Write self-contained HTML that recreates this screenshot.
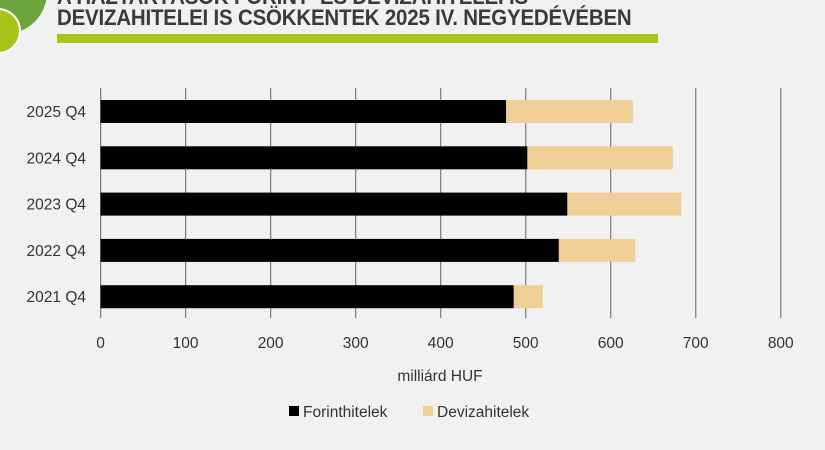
<!DOCTYPE html>
<html><head><meta charset="utf-8"><style>
body{margin:0;width:825px;height:450px;background:#f1f1f1;overflow:hidden;font-family:"Liberation Sans",sans-serif;position:relative}
.title{position:absolute;left:57px;font-weight:bold;color:#3a3a3a;font-size:22px;letter-spacing:-0.2px;white-space:nowrap;transform:scaleX(0.93);transform-origin:left}
</style></head><body>
<svg width="825" height="60" style="position:absolute;left:0;top:0">
<circle cx="5" cy="-8" r="42" fill="#6aa43a"/>
<circle cx="-2" cy="31" r="22" fill="#a8c418" stroke="#fff" stroke-width="2"/>
</svg>
<div class="title" style="top:-16px">A HÁZTARTÁSOK FORINT- ÉS DEVIZAHITELEI IS</div>
<div class="title" style="top:5px">DEVIZAHITELEI IS CSÖKKENTEK 2025 IV. NEGYEDÉVÉBEN</div>
<div style="position:absolute;left:57px;top:34px;width:601px;height:9px;background:#a8c418"></div>
<svg id="chart" width="825" height="450" style="position:absolute;left:0;top:0"></svg>
<script>
const categories=["2025 Q4","2024 Q4","2023 Q4","2022 Q4","2021 Q4"];
const forint=[477,502,549,539,486];
const deviza=[149,171,134,90,34];
const ticks=[0,100,200,300,400,500,600,700,800];
const svg=document.getElementById('chart');
const NS='http://www.w3.org/2000/svg';
const x=v=>100.6+v*0.8502;
const y=i=>100+i*46.3;
function mk(t,a,txt){const e=document.createElementNS(NS,t);for(const k in a)e.setAttribute(k,a[k]);if(txt!=null)e.textContent=txt;svg.appendChild(e);return e;}
ticks.forEach(t=>{
 const l=mk('line',{x1:x(t),x2:x(t),y1:88,y2:318,stroke:'#7a7a7a','stroke-width':1.2});
 
 
 const tx=mk('text',{x:x(t),y:348,'text-anchor':'middle','font-size':15.5,fill:'#333'},String(t));
 
 
});
categories.forEach((c,i)=>{
 const b=mk('rect',{x:x(0),y:y(i),width:x(forint[i])-x(0),height:23,fill:'#000'});
 
 
 const d=mk('rect',{x:x(forint[i]),y:y(i),width:x(forint[i]+deviza[i])-x(forint[i]),height:23,fill:'#f0cf96'});
 
 
 const l=mk('text',{x:86,y:y(i)+17,'text-anchor':'end','font-size':15.5,fill:'#333'},c);
 
 
});
const at=mk('text',{x:440,y:381,'text-anchor':'middle','font-size':15.5,fill:'#333'},'milliárd HUF');


const s1=mk('rect',{x:289,y:406,width:10,height:10,fill:'#000'});


const t1=mk('text',{x:303,y:417,'font-size':15.5,fill:'#333'},'Forinthitelek');


const s2=mk('rect',{x:423,y:406,width:10,height:10,fill:'#f0cf96'});


const t2=mk('text',{x:437,y:417,'font-size':15.5,fill:'#333'},'Devizahitelek');


</script>
</body></html>
